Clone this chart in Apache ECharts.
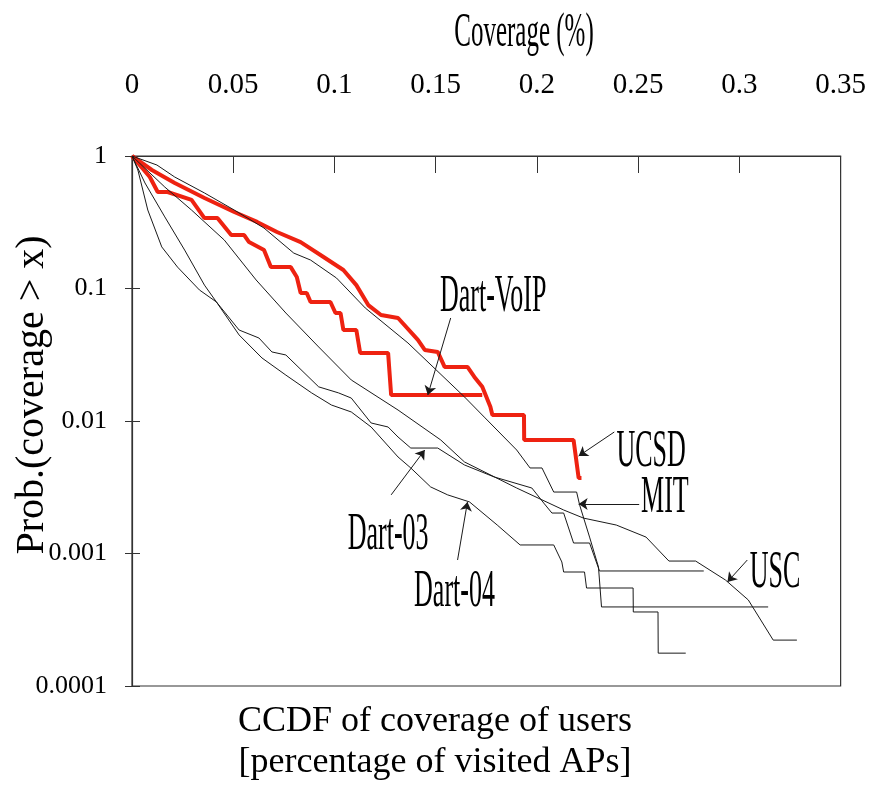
<!DOCTYPE html>
<html>
<head>
<meta charset="utf-8">
<script src="https://cdn.jsdelivr.net/npm/echarts@6/dist/echarts.min.js"></script>
<style>
  html, body { margin: 0; padding: 0; background: #fff; }
  #chart { width: 869px; height: 785px; }
</style>
</head>
<body>
<div id="chart"></div>
<script>
// tick values
const xTicks = [0, 0.05, 0.1, 0.15, 0.2, 0.25, 0.3, 0.35];
const yTickLabels = ['0.0001', '0.001', '0.01', '0.1', '1'];

// CCDF curves, [coverage, prob]
const dartVoip = [[0,1],[0.0088,0.694],[0.0127,0.535],[0.0176,0.535],[0.0294,0.466],[0.0358,0.340],[0.0422,0.340],
  [0.049,0.253],[0.0554,0.253],[0.0578,0.224],[0.0652,0.195],[0.0686,0.145],[0.0784,0.145],[0.0814,0.122],
  [0.0833,0.0925],[0.0863,0.0925],[0.0882,0.0791],[0.098,0.0791],[0.1005,0.0653],[0.103,0.0653],[0.1044,0.0486],
  [0.1108,0.0486],[0.1127,0.0326],[0.1265,0.0326],[0.128,0.0157],[0.173,0.0157]];
const ucsd = [[0,1],[0.0098,0.784],[0.0211,0.626],[0.0358,0.482],[0.0505,0.378],[0.0618,0.318],[0.0716,0.267],
  [0.0833,0.224],[0.0946,0.173],[0.1044,0.138],[0.1108,0.106],[0.1167,0.075],[0.123,0.0631],[0.1314,0.0599],
  [0.1412,0.0409],[0.1446,0.0344],[0.151,0.0332],[0.1544,0.0256],[0.1657,0.0256],[0.1691,0.0215],[0.173,0.0181],
  [0.177,0.0128],[0.178,0.0111],[0.1936,0.0111],[0.1937,0.00719],[0.2181,0.00719],[0.2206,0.00372],[0.222,0.00372]];
const mit = [[0,1],[0.0123,0.855],[0.0211,0.694],[0.0358,0.526],[0.0505,0.391],[0.0652,0.286],[0.0799,0.185],
  [0.0882,0.164],[0.101,0.120],[0.1152,0.0713],[0.1363,0.0388],[0.1642,0.0152],[0.174,0.0107],[0.190,0.00604],
  [0.1966,0.00442],[0.2025,0.00442],[0.2083,0.00291],[0.2196,0.00291],[0.2211,0.00232],[0.226,0.00133],
  [0.2304,0.000791],[0.2319,0.000395],[0.3142,0.000395]];
const usc = [[0,1],[0.0162,0.583],[0.0294,0.391],[0.0456,0.232],[0.0613,0.116],[0.076,0.0653],[0.0922,0.0362],
  [0.1083,0.0204],[0.1314,0.0121],[0.1525,0.00719],[0.1642,0.00491],[0.190,0.00312],[0.2132,0.00213],
  [0.223,0.00185],[0.2392,0.00164],[0.2539,0.00133],[0.2652,0.000877],[0.2784,0.000877],[0.2931,0.000631],
  [0.3044,0.000446],[0.3167,0.000222],[0.3284,0.000222]];
const dart03 = [[0,1],[0.0029,0.784],[0.0078,0.391],[0.0147,0.206],[0.0225,0.145],[0.0333,0.0975],[0.0417,0.0791],
  [0.0529,0.0486],[0.0627,0.0423],[0.0691,0.0332],[0.076,0.0315],[0.0922,0.0181],[0.102,0.0163],[0.1083,0.0149],
  [0.1181,0.00966],[0.1265,0.00901],[0.1314,0.00757],[0.1377,0.00625],[0.151,0.00625],[0.1642,0.00466],
  [0.1789,0.00378],[0.1975,0.00312],[0.2034,0.0024],[0.2074,0.00202],[0.2132,0.00202],[0.2181,0.0012],
  [0.226,0.0012],[0.2309,0.000738],[0.2824,0.000738]];
const dart04 = [[0,1],[0.0064,0.626],[0.0162,0.347],[0.026,0.195],[0.0358,0.106],[0.0417,0.0791],[0.0529,0.0446],
  [0.0642,0.0299],[0.076,0.0222],[0.0887,0.0163],[0.0985,0.0132],[0.1083,0.0117],[0.1181,0.00901],[0.1314,0.00535],
  [0.1377,0.00442],[0.1475,0.00318],[0.1559,0.00277],[0.1667,0.00245],[0.1804,0.00164],[0.1917,0.00116],
  [0.2083,0.00116],[0.2123,0.000863],[0.2132,0.000725],[0.2235,0.000725],[0.2245,0.000549],[0.2475,0.000549],
  [0.2476,0.000362],[0.2598,0.000362],[0.2599,0.000177],[0.2735,0.000177]];

// callouts: label spot, arrow tail, arrow head (data coords)
const notes = [
  { text: 'Dart-VoIP', at: [0.1784, 0.0863], from: [0.1574, 0.0599], to: [0.1461, 0.0157] },
  { text: 'UCSD', at: [0.2564, 0.00583], from: [0.2382, 0.00826], to: [0.2206, 0.00544] },
  { text: 'MIT', at: [0.2632, 0.00262], from: [0.2505, 0.00236], to: [0.2206, 0.00236] },
  { text: 'USC', at: [0.3176, 0.000713], from: [0.3039, 0.000893], to: [0.2941, 0.00061] },
  { text: 'Dart-03', at: [0.1265, 0.00138], from: [0.128, 0.00277], to: [0.1446, 0.00604] },
  { text: 'Dart-04', at: [0.1593, 0.000512], from: [0.1608, 0.000893], to: [0.1657, 0.00245] }
];

const serif = '"Liberation Serif", "Times New Roman", serif';
const red = '#ee2211';
const black = '#1a1a1a';

function curve(name, data, color, width) {
  return {
    name, type: 'line', data, showSymbol: false, silent: true,
    lineStyle: { color, width }, z: width > 2 ? 2 : 3
  };
}

const chart = echarts.init(document.getElementById('chart'));
const series = [
  curve('Dart-VoIP', dartVoip, red, 4),
  curve('UCSD', ucsd, red, 4),
  curve('MIT', mit, black, 1),
  curve('USC', usc, black, 1),
  curve('Dart-03', dart03, black, 1),
  curve('Dart-04', dart04, black, 1)
];
series[3].markLine = {
  silent: true, animation: false,
  symbol: ['none', 'arrow'], symbolSize: 9,
  label: { show: false },
  lineStyle: { color: black, width: 1, type: 'solid' },
  data: notes.map(n => [{ coord: n.from }, { coord: n.to }])
};

const yBase = {
  type: 'log', logBase: 10, min: 0.0001, max: 1,
  splitLine: { show: false }
};

chart.setOption({
  animation: false,
  backgroundColor: '#fff',
  grid: { left: 132, right: 23, top: 156, bottom: 99, show: true, borderColor: '#333', borderWidth: 1.2 },
  xAxis: {
    type: 'value', position: 'top', min: 0, max: 0.35, interval: 0.05,
    axisLine: { lineStyle: { color: '#333', width: 1.2 } },
    axisTick: { inside: true, length: 17, lineStyle: { color: '#333' } },
    splitLine: { show: false },
    axisLabel: {
      margin: 56, color: '#000', fontFamily: serif, fontSize: 29,
      formatter: v => String(+v.toFixed(2)),
      customValues: xTicks
    }
  },
  yAxis: [
    Object.assign({}, yBase, {
      axisLine: { show: true, lineStyle: { color: '#333', width: 1.2 } },
      axisTick: { show: true, length: 7, lineStyle: { color: '#333' } },
      axisLabel: {
        margin: 25, color: '#000', fontFamily: serif, fontSize: 26,
        formatter: v => yTickLabels[Math.round(Math.log10(v)) + 4]
      }
    }),
    // inner half of the ticks, they cross the axis line in the original
    Object.assign({}, yBase, {
      position: 'left',
      axisLine: { show: false },
      axisTick: { show: true, inside: true, length: 8, lineStyle: { color: '#333' } },
      axisLabel: { show: false }
    })
  ],
  series
});

const px = c => chart.convertToPixel({ gridIndex: 0 }, c);
const graphics = [
  {
    type: 'text', x: 524, y: 34, scaleY: 1.9,
    style: { text: 'Coverage (%)', font: '25px ' + serif, fill: '#000', textAlign: 'center', textVerticalAlign: 'middle', align: 'center', verticalAlign: 'middle' }
  },
  {
    type: 'text', x: 32, y: 395, rotation: Math.PI / 2,
    style: { text: 'Prob.(coverage > x)', font: '40px ' + serif, fill: '#000', textAlign: 'center', textVerticalAlign: 'middle', align: 'center', verticalAlign: 'middle' }
  },
  {
    type: 'text', x: 435, y: 742,
    style: { text: 'CCDF of coverage of users\n[percentage of visited APs]', font: '36px ' + serif, lineHeight: 41, fill: '#000', textAlign: 'center', textVerticalAlign: 'middle', align: 'center', verticalAlign: 'middle' }
  }
];
notes.forEach(n => {
  const p = px(n.at);
  graphics.push({
    type: 'text', x: p[0], y: p[1], scaleY: 2, z: 10,
    style: { text: n.text, font: '26px ' + serif, fill: '#000', textAlign: 'center', textVerticalAlign: 'middle', align: 'center', verticalAlign: 'middle' }
  });
});
chart.setOption({ graphic: graphics });
</script>
</body>
</html>
